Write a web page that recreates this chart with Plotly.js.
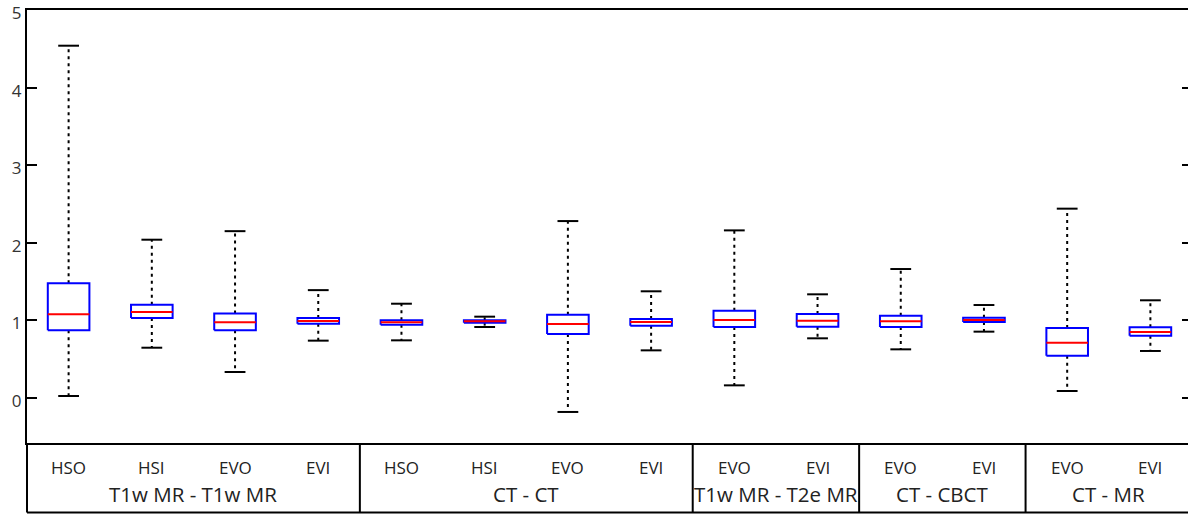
<!DOCTYPE html>
<html>
<head>
<meta charset="utf-8">
<script src="https://cdn.plot.ly/plotly-3.0.1.min.js"></script>
<style>
html,body{margin:0;padding:0;overflow:hidden;background:#fff;}
#chart{width:1192px;height:514px;}
</style>
</head>
<body>
<div id="chart"></div>
<script>
// ---- data ----
const categories = ["HSO","HSI","EVO","EVI","HSO","HSI","EVO","EVI","EVO","EVI","EVO","EVI","EVO","EVI"];
const groupNames = ["T1w MR - T1w MR","CT - CT","T1w MR - T2e MR","CT - CBCT","CT - MR"];
const groupSizes = [4, 4, 2, 2, 2];
const upperWhisker = [4.54, 2.04, 2.15, 1.39, 1.215, 1.048, 2.28, 1.375, 2.16, 1.336, 1.662, 1.198, 2.44, 1.259];
const q3Values     = [1.478, 1.203, 1.09, 1.031, 1.001, 1.001, 1.074, 1.018, 1.125, 1.082, 1.061, 1.035, 0.902, 0.911];
const medianValues = [1.078, 1.108, 0.975, 0.992, 0.975, 0.988, 0.954, 0.979, 1.005, 0.996, 0.988, 1.005, 0.713, 0.851];
const q1Values     = [0.872, 1.031, 0.872, 0.958, 0.945, 0.971, 0.825, 0.932, 0.915, 0.919, 0.915, 0.979, 0.545, 0.803];
const lowerWhisker = [0.026, 0.648, 0.335, 0.739, 0.743, 0.915, -0.18, 0.614, 0.163, 0.769, 0.627, 0.855, 0.09, 0.606];
const yTicks = [0, 1, 2, 3, 4, 5];

// ---- build traces ----
const boxHalf = 0.25, capHalf = 0.125;
const wx=[], wy=[], cx=[], cy=[], bx=[], by=[], mx=[], my=[];
categories.forEach((c, i) => {
  const x = i + 1;
  wx.push(x, x, null, x, x, null);
  wy.push(q3Values[i], upperWhisker[i], null, q1Values[i], lowerWhisker[i], null);
  cx.push(x-capHalf, x+capHalf, null, x-capHalf, x+capHalf, null);
  cy.push(upperWhisker[i], upperWhisker[i], null, lowerWhisker[i], lowerWhisker[i], null);
  bx.push(x-boxHalf, x+boxHalf, x+boxHalf, x-boxHalf, x-boxHalf, null);
  by.push(q1Values[i], q1Values[i], q3Values[i], q3Values[i], q1Values[i], null);
  mx.push(x-boxHalf, x+boxHalf, null);
  my.push(medianValues[i], medianValues[i], null);
});

const traces = [
  {x: wx, y: wy, mode: 'lines', line: {color: '#000', width: 2, dash: '3px,4px'}, hoverinfo: 'skip'},
  {x: cx, y: cy, mode: 'lines', line: {color: '#000', width: 2}, hoverinfo: 'skip'},
  {x: bx, y: by, mode: 'lines', line: {color: '#0000ff', width: 2}, hoverinfo: 'skip'},
  {x: mx, y: my, mode: 'lines', line: {color: '#ff0000', width: 2}, hoverinfo: 'skip'}
];

// ---- table below plot ----
const plotH = 514 - 10 - 71;
const tableBottom = -(512.5 - 443) / plotH;
const shapes = [];
const annotations = [];
const fontFam = 'Open Sans, sans-serif';
shapes.push({type: 'line', xref: 'paper', yref: 'paper', x0: 0, x1: 1, y0: tableBottom, y1: tableBottom, line: {color: '#000', width: 2}});
shapes.push({type: 'line', xref: 'paper', yref: 'paper', x0: 0, x1: 0, y0: 0, y1: tableBottom, line: {color: '#000', width: 2}});
let start = 0;
groupNames.forEach((g, gi) => {
  const n = groupSizes[gi];
  const center = start + (n + 1) / 2;
  annotations.push({text: g, xref: 'x', yref: 'paper', x: center, y: 0, yanchor: 'middle', yshift: -51,
    showarrow: false, font: {family: fontFam, size: 20.5, color: '#222'}});
  const sep = start + n + 0.5;
  if (gi < groupNames.length - 1) {
    shapes.push({type: 'line', xref: 'x', yref: 'paper', x0: sep, x1: sep, y0: 0, y1: tableBottom, line: {color: '#000', width: 2}});
  }
  start += n;
});
categories.forEach((c, i) => {
  annotations.push({text: c, xref: 'x', yref: 'paper', x: i + 1, y: 0, yanchor: 'middle', yshift: -24,
    showarrow: false, font: {family: fontFam, size: 17, color: '#222'}});
});

const layout = {
  width: 1192, height: 514,
  margin: {l: 27, r: 0, t: 10, b: 71},
  paper_bgcolor: '#fff', plot_bgcolor: '#fff',
  showlegend: false,
  xaxis: {range: [0.5, 14.5], showgrid: false, zeroline: false, showticklabels: false, ticks: '',
          showline: true, linecolor: '#000', linewidth: 2, mirror: true, fixedrange: true},
  yaxis: {range: [-0.58, 5.0001], tickvals: yTicks, ticktext: yTicks.map(String), showgrid: false, zeroline: false,
          ticks: 'inside', ticklen: 10, tickwidth: 2, tickcolor: '#000',
          showline: true, linecolor: '#000', linewidth: 2, mirror: 'ticks', ticklabeloverflow: 'allow',
          ticklabelshift: 3,
          tickfont: {family: fontFam, size: 17, color: '#333'}, fixedrange: true},
  shapes: shapes,
  annotations: annotations
};

Plotly.newPlot('chart', traces, layout, {displayModeBar: false, staticPlot: true});
</script>
</body>
</html>
